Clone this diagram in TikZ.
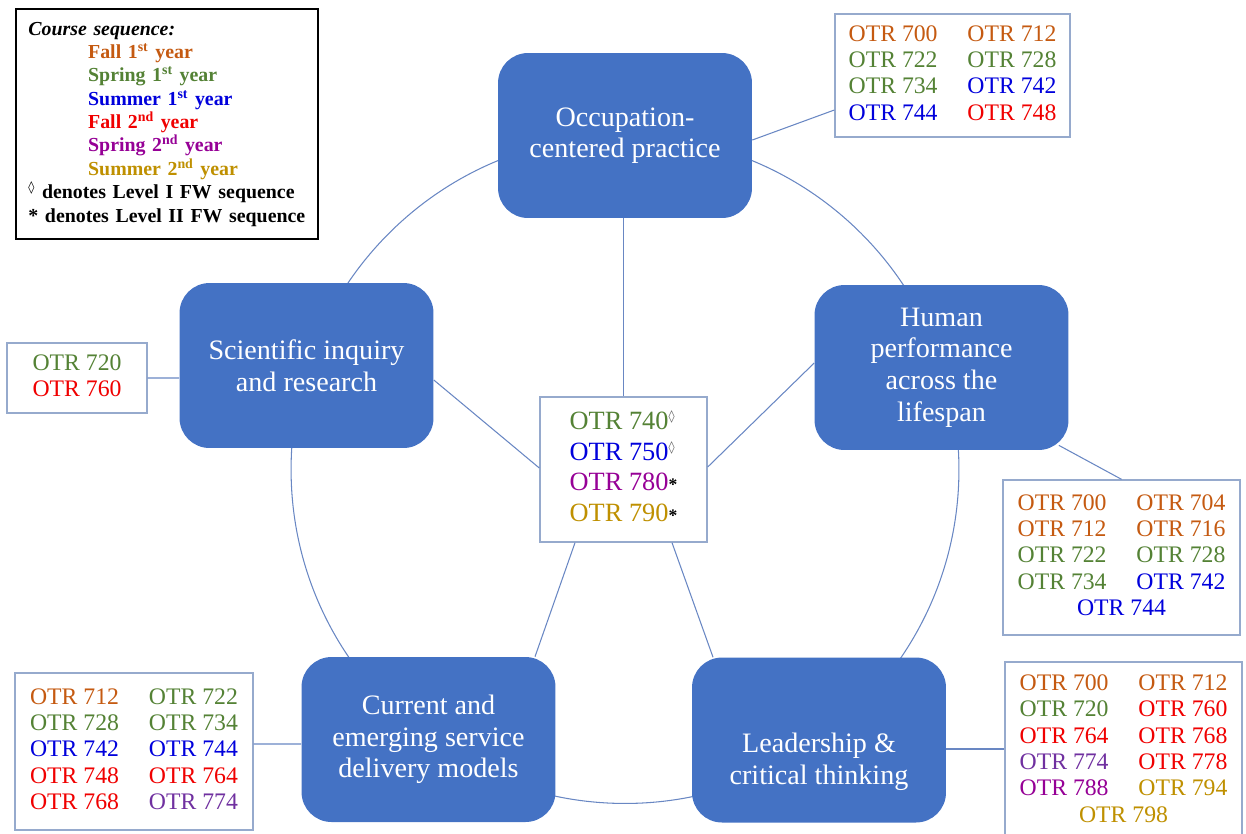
\documentclass[tikz,border=0pt]{standalone}
\usepackage{fontspec}
\setmainfont{Liberation Serif}
\newfontfamily\djv{DejaVu Sans}
\usetikzlibrary{calc}
\definecolor{fallA}{RGB}{197,90,17}
\definecolor{sprA}{RGB}{84,130,53}
\definecolor{sumA}{RGB}{0,0,220}
\definecolor{fallB}{RGB}{240,0,0}
\definecolor{sprB}{RGB}{150,0,150}
\definecolor{sprC}{RGB}{112,48,160}
\definecolor{sumB}{RGB}{191,144,0}
\definecolor{boxblue}{RGB}{68,114,196}
\definecolor{linec}{RGB}{105,135,195}
\definecolor{listc}{RGB}{150,170,205}
\newcommand{\mydm}{\textsuperscript{\djv\scriptsize\color{black!60}◊}}
\newcommand{\myast}{{\fontsize{10}{10}\selectfont\bfseries\color{black}*}}
\newcommand{\oA}[1]{{\color{fallA}OTR #1}}
\newcommand{\oB}[1]{{\color{sprA}OTR #1}}
\newcommand{\oC}[1]{{\color{sumA}OTR #1}}
\newcommand{\oD}[1]{{\color{fallB}OTR #1}}
\newcommand{\oE}[1]{{\color{sprB}OTR #1}}
\newcommand{\oEp}[1]{{\color{sprC}OTR #1}}
\newcommand{\oF}[1]{{\color{sumB}OTR #1}}
\tikzset{
  mainbox/.style={fill=boxblue, draw=none, rounded corners=0.6cm, minimum width=5.08cm, minimum height=3.3cm, text=white, align=center, font=\fontsize{16}{18}\selectfont},
  boxtext/.style={text=white, align=center, font=\fontsize{16}{18}\selectfont},
  listbox/.style={draw=listc, line width=0.8pt, fill=white, inner sep=0pt, font=\fontsize{13.5}{15}\selectfont},
  conn/.style={draw=linec, line width=0.6pt}
}
\begin{document}
\begin{tikzpicture}[x=0.02cm,y=-0.02cm]
\useasboundingbox (0,0) rectangle (1246,833);
% circle
\draw[conn] (625,469.5) circle [radius=6.68cm];
% main boxes
\node[mainbox] (occ) at (625,135.5) {Occupation-\\centered practice};
\node[mainbox] (hum) at (941.5,367.5) {Human\\performance\\across the\\lifespan};
\node[mainbox] (sci) at (306.5,365.5) {Scientific inquiry\\and research};
\node[mainbox] (cur) at (428.5,739.5) {Current and\\emerging service\\delivery models};
\node[mainbox] (led) at (819,740) {};
\node[boxtext] (ledt) at ($(led.center)+(0,22)$) {Leadership \&\\critical thinking};
% center box
\node[listbox, minimum width=3.34cm, minimum height=2.9cm, font=\fontsize{15}{17.4}\selectfont] (cen) at (623.5,469.5)
 {\begin{tabular}{@{}l@{}}\oB{740}\mydm\\ \oC{750}\mydm\\ \oE{780}\myast\\ \oF{790}\myast\end{tabular}};
% list boxes
\node[listbox, minimum width=4.7cm, minimum height=2.46cm] (tr) at (952.5,75.5)
 {\begin{tabular}{@{}l@{\hspace{17pt}}l@{}}\oA{700} & \oA{712}\\ \oB{722} & \oB{728}\\ \oB{734} & \oC{742}\\ \oC{744} & \oD{748}\end{tabular}};
\node[listbox, minimum width=2.8cm, minimum height=1.4cm] (lft) at (77,378)
 {\begin{tabular}{@{}c@{}}\oB{720}\\ \oD{760}\end{tabular}};
\node[listbox, minimum width=4.74cm, minimum height=3.1cm] (rgt) at (1121.5,557.5)
 {\begin{tabular}{@{}l@{\hspace{17pt}}l@{}}\oA{700} & \oA{704}\\ \oA{712} & \oA{716}\\ \oB{722} & \oB{728}\\ \oB{734} & \oC{742}\\ \multicolumn{2}{c}{\oC{744}}\end{tabular}};
\node[listbox, minimum width=4.76cm, minimum height=3.14cm] (bl) at (134,751.5)
 {\begin{tabular}{@{}l@{\hspace{17pt}}l@{}}\oA{712} & \oB{722}\\ \oB{728} & \oB{734}\\ \oC{742} & \oC{744}\\ \oD{748} & \oD{764}\\ \oD{768} & \oEp{774}\end{tabular}};
\node[listbox, minimum width=4.74cm, minimum height=3.56cm] (br) at (1123.5,751)
 {\begin{tabular}{@{}l@{\hspace{17pt}}l@{}}\oA{700} & \oA{712}\\ \oB{720} & \oD{760}\\ \oD{764} & \oD{768}\\ \oEp{774} & \oD{778}\\ \oE{788} & \oF{794}\\ \multicolumn{2}{c}{\oF{798}}\end{tabular}};
% legend
\node[draw=black, line width=1.3pt, fill=white, anchor=north west, inner xsep=7pt, inner ysep=4pt, minimum height=4.6cm, text width=158pt, align=left, font=\fontsize{11.3}{13.3}\selectfont\bfseries] (leg) at (15,8)
 {{\itshape Course sequence:}\\
  \hspace*{34pt}{\color{fallA}Fall 1\textsuperscript{st} year}\\
  \hspace*{34pt}{\color{sprA}Spring 1\textsuperscript{st} year}\\
  \hspace*{34pt}{\color{sumA}Summer 1\textsuperscript{st} year}\\
  \hspace*{34pt}{\color{fallB}Fall 2\textsuperscript{nd} year}\\
  \hspace*{34pt}{\color{sprB}Spring 2\textsuperscript{nd} year}\\
  \hspace*{34pt}{\color{sumB}Summer 2\textsuperscript{nd} year}\\
  \mbox{\textsuperscript{\djv\scriptsize ◊} denotes Level I FW sequence}\\
  \mbox{* denotes Level II FW sequence}};
% connectors
\draw[conn] ($(occ.east)+(0,4.5)$) -- ($(tr.west)+(0,34.5)$);
\draw[conn] ($(sci.west)+(0,12.5)$) -- (lft.east);
\draw[conn] ($(sci.east)+(0,14.5)$) -- ($(cen.west)+(0,-1.5)$);
\draw[conn] ($(hum.west)+(0,-4.5)$) -- ($(cen.east)+(0,-2.5)$);
\draw[conn] ($(hum.south east)+(-10,-5)$) -- (rgt.north);
\draw[conn] (cen.north) -- (cen.north |- occ.south);
\draw[conn] ($(cen.south)+(-48.5,0)$) -- ($(cur.north)+(106.5,0)$);
\draw[conn] ($(cen.south)+(48.5,0)$) -- ($(led.north)+(-106,0)$);
\draw[conn] ($(cur.west)+(0,4.5)$) -- ($(bl.east)+(0,-7.5)$);
\draw[conn] ($(led.east)+(0,9)$) -- ($(br.west)+(0,-2)$);
\end{tikzpicture}
\end{document}
